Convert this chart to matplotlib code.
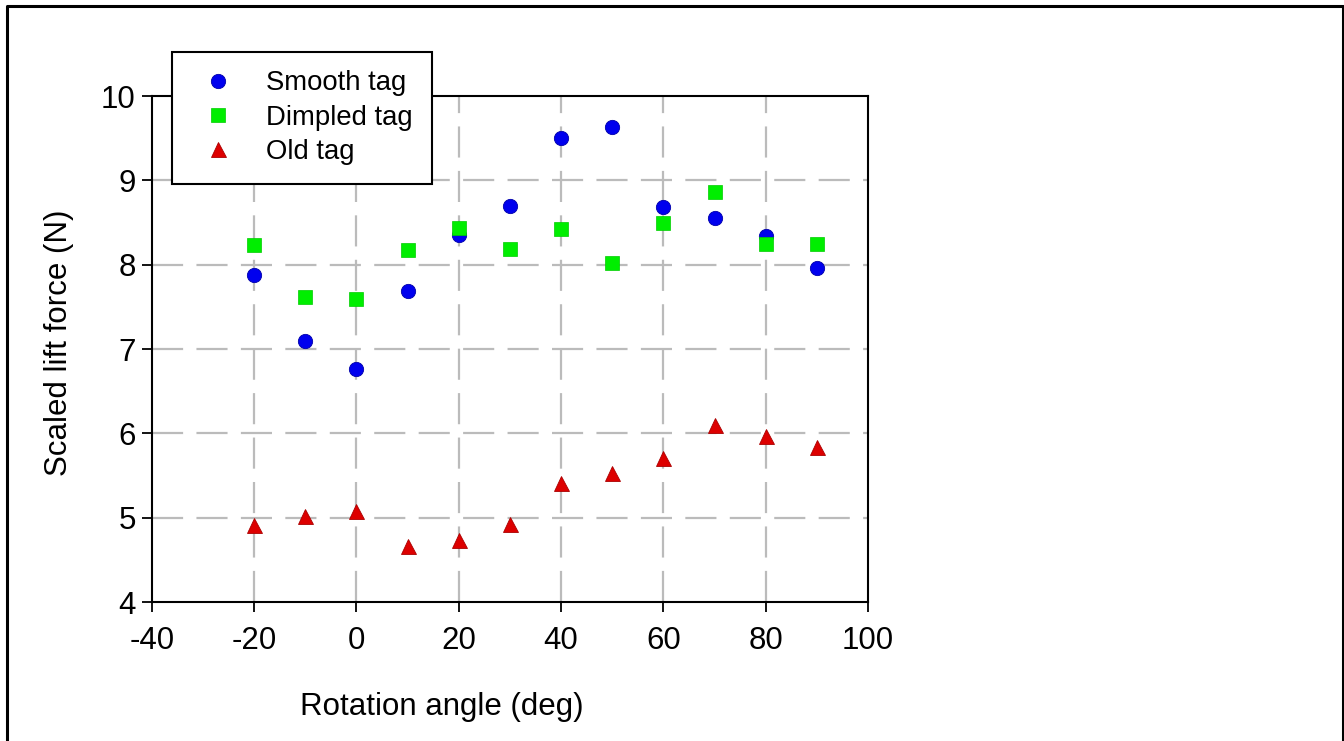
import matplotlib
matplotlib.use("Agg")
import matplotlib.pyplot as plt
from matplotlib.lines import Line2D

angles = [-20, -10, 0, 10, 20, 30, 40, 50, 60, 70, 80, 90]
smooth = [7.88, 7.09, 6.76, 7.69, 8.35, 8.70, 9.50, 9.63, 8.68, 8.55, 8.34, 7.96]
dimpled = [8.23, 7.62, 7.59, 8.17, 8.43, 8.19, 8.42, 8.02, 8.50, 8.86, 8.25, 8.25]
old = [4.91, 5.02, 5.08, 4.66, 4.74, 4.93, 5.41, 5.53, 5.71, 6.10, 5.97, 5.84]
xticks = [-40, -20, 0, 20, 40, 60, 80, 100]
yticks = [4, 5, 6, 7, 8, 9, 10]

plt.rcParams['font.family'] = ['Liberation Sans', 'DejaVu Sans']
plt.rcParams['axes.unicode_minus'] = False

W, H = 1344, 741
fig = plt.figure(figsize=(W / 100, H / 100), dpi=100)
ax = fig.add_axes([151.7 / W, 1 - 602 / H, (868 - 151.7) / W, (602 - 96) / H])

ax.set_xlim(-40, 100)
ax.set_ylim(4, 10)
ax.set_xticks(xticks)
ax.set_yticks(yticks)
ax.tick_params(direction='out', length=7, width=1.3, labelsize=22.5)
ax.tick_params(axis='x', pad=10)
ax.tick_params(axis='y', pad=4.5)
for s in ax.spines.values():
    s.set_linewidth(1.5)
    s.set_color('black')

for v in xticks[1:-1]:
    ax.axvline(v, color='#bbbbbb', lw=1.6, dashes=(14, 6), zorder=0)
for v in yticks[1:-1]:
    ax.axhline(v, color='#bbbbbb', lw=1.6, dashes=(14, 6), zorder=0)

ax.plot(angles, smooth, 'o', color='#0000EE', mec='#0000AA', ms=10.3, mew=0.6,
        label='Smooth tag', zorder=3)
ax.plot(angles, dimpled, 's', color='#00EE00', mec='#00CC00', ms=9.5, mew=0.5,
        label='Dimpled tag', zorder=4)
ax.plot(angles, old, '^', color='#DD0000', mec='#AA0000', ms=10.8, mew=0.6,
        label='Old tag', zorder=3)

leg = ax.legend(loc='upper left', bbox_to_anchor=(171.7 / W, 1 - 51.7 / H),
                bbox_transform=fig.transFigure, borderaxespad=0, fontsize=19.8,
                frameon=True, fancybox=False, edgecolor='black', framealpha=1,
                borderpad=0.68, handlelength=2.04, handletextpad=0.72,
                labelspacing=0.3, numpoints=1)
leg.get_frame().set_linewidth(1.5)
leg.set_zorder(10)

fig.text(59 / W, 1 - 343 / H, 'Scaled lift force (N)', rotation=90,
         ha='center', va='center', fontsize=22.5)
fig.text(442 / W, 1 - 707 / H, 'Rotation angle (deg)', ha='center',
         va='center', fontsize=22.5)

# outer border (open at the bottom)
bx0, bx1, by0 = 6.5 / W, 1342.5 / W, 1 - 6 / H
fig.add_artist(Line2D([bx0, bx0, bx1, bx1], [-0.01, by0, by0, -0.01],
                      transform=fig.transFigure, color='black', lw=2.2))

fig.savefig('out.png', dpi=100)
